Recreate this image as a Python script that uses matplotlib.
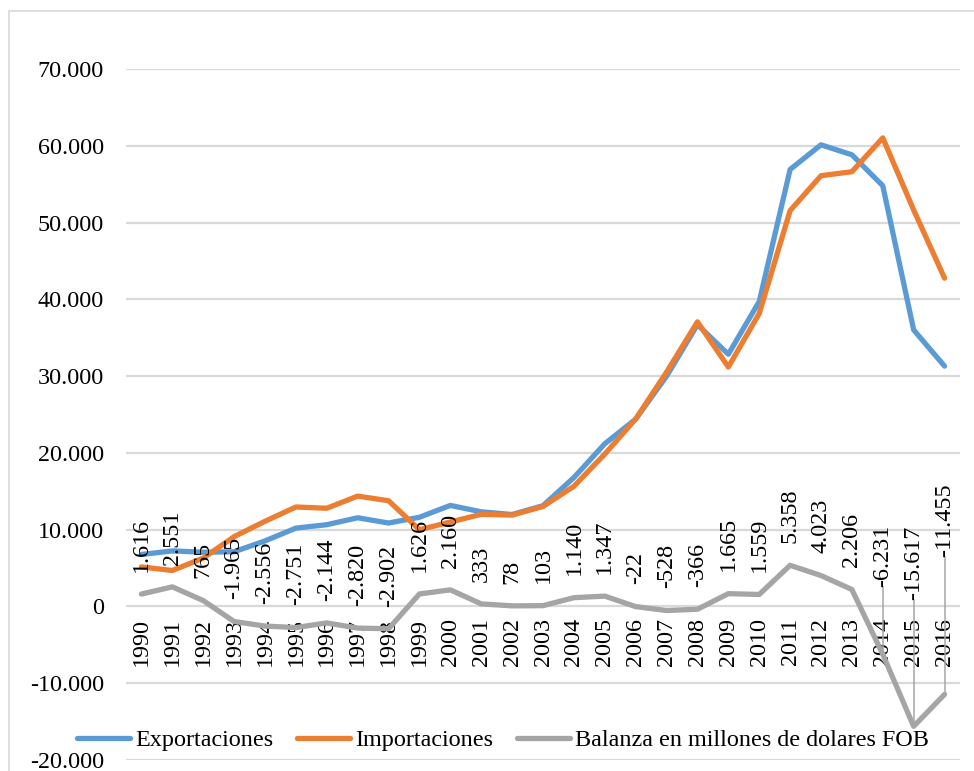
import numpy as np
import matplotlib
matplotlib.use('Agg')
import matplotlib.pyplot as plt
from matplotlib.patches import Rectangle
from matplotlib.ticker import FuncFormatter

# Datos (millones de dolares FOB)
years = list(range(1990, 2017))
exportaciones = [6766, 7232, 7065, 7123, 8538, 10201, 10648, 11549, 10866, 11617,
                 13158, 12330, 11975, 13129, 16788, 21190, 24391, 29991, 36700, 32846,
                 39713, 56915, 60125, 58826, 54795, 36018, 31300]
importaciones = [5150, 4681, 6300, 9088, 11094, 12952, 12792, 14369, 13768, 9991,
                 10998, 11997, 11897, 13026, 15648, 19843, 24413, 30519, 37066, 31181,
                 38154, 51557, 56102, 56620, 61026, 51635, 42755]
balanza = [1616, 2551, 765, -1965, -2556, -2751, -2144, -2820, -2902, 1626,
           2160, 333, 78, 103, 1140, 1347, -22, -528, -366, 1665,
           1559, 5358, 4023, 2206, -6231, -15617, -11455]

# etiquetas desplazadas con linea guia (valor del eje donde empieza el texto)
label_y_manual = {2014: 2500, 2015: 800, 2016: 6400}

plt.rcParams['font.family'] = ['Liberation Serif', 'DejaVu Serif']
fs = 17.4

fig = plt.figure(figsize=(9.74, 7.71), dpi=100)
ax = fig.add_axes([126/974, 1 - 760/771, (960 - 126)/974, (760 - 69)/771])

x = np.arange(len(years))
ax.plot(x, exportaciones, color='#5B9BD5', lw=3.8, solid_capstyle='round',
        solid_joinstyle='round', label='Exportaciones', zorder=3)
ax.plot(x, importaciones, color='#ED7D31', lw=3.8, solid_capstyle='round',
        solid_joinstyle='round', label='Importaciones', zorder=3)
ax.plot(x, balanza, color='#A5A5A5', lw=3.8, solid_capstyle='round',
        solid_joinstyle='round', label='Balanza en millones de dolares FOB', zorder=3)

def miles(v):
    return f"{int(v):,}".replace(',', '.')

# Etiquetas de datos de la balanza
for i, (yr, v) in enumerate(zip(years, balanza)):
    if yr in label_y_manual:
        ly = label_y_manual[yr]
        ax.plot([i, i], [v, ly], color='#A6A6A6', lw=1.1, zorder=2)
        ax.text(i, ly, miles(v), rotation=90, ha='center', va='bottom',
                fontsize=fs, zorder=4)
    else:
        ax.annotate(miles(v), xy=(i, v), xytext=(0, 16), textcoords='offset points',
                    rotation=90, ha='center', va='bottom', fontsize=fs, zorder=4)

# Ejes
ax.set_xlim(-0.5, len(years) - 0.5)
ax.set_ylim(-20000, 70000)
ax.spines['bottom'].set_position(('data', 0))
for s in ax.spines.values():
    s.set_visible(False)
ax.set_yticks(np.arange(-20000, 70001, 10000))
ax.yaxis.set_major_formatter(FuncFormatter(lambda v, p: miles(v)))
ax.set_xticks(x)
ax.set_xticklabels([str(y) for y in years])
ax.tick_params(axis='x', length=0, pad=8, labelsize=fs, labelrotation=90)
ax.tick_params(axis='y', length=0, pad=16, labelsize=fs)
ax.grid(axis='y', color='#D9D9D9', lw=1.6)
ax.set_axisbelow(True)

# Leyenda
fig.legend(loc='center', bbox_to_anchor=(503/974, 1 - 740/771), ncol=3,
           frameon=False, fontsize=fs, handlelength=2.2, handletextpad=0.2,
           columnspacing=1.0)

# Borde del grafico
fig.patches.append(Rectangle((9/974, -0.1), 1.2, 1.1 - 11/771, transform=fig.transFigure,
                             fill=False, edgecolor='#D9D9D9', lw=1.2))

plt.savefig('out.png', dpi=100)
